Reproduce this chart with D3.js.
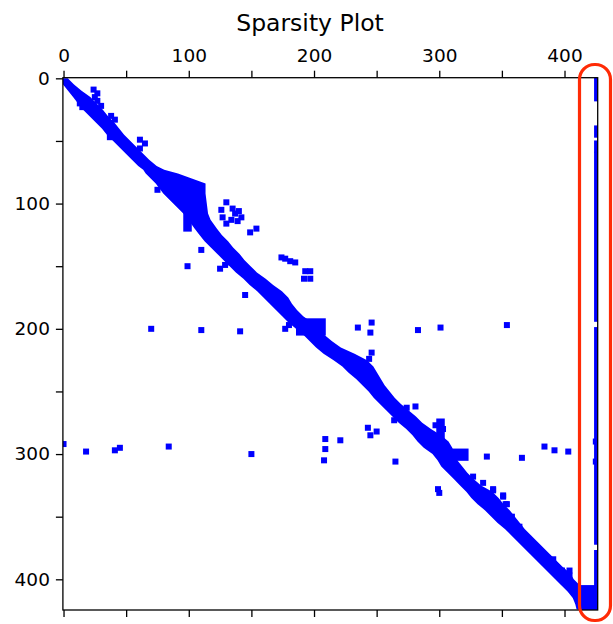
<!DOCTYPE html>
<html>
<head>
<meta charset="utf-8">
<script src="https://cdn.jsdelivr.net/npm/d3@7"></script>
<style>
  html, body { margin: 0; padding: 0; background: #ffffff; }
  svg { display: block; }
  text { font-family: "DejaVu Sans", sans-serif; fill: #000; }
</style>
</head>
<body>
<div id="chart"></div>
<script>
// Matrix shape
const nRows = 425;
const nCols = 427;

// Main diagonal band profile: [row, firstCol, lastCol] of the nonzeros at that row
const bandRows = [
  [0, 0, 1], [5, 2, 6], [10, 6, 12], [15, 10, 19], [20, 14, 24], [25, 18, 29],
  [30, 23, 33], [35, 28, 38], [40, 33, 42], [45, 37, 46], [50, 42, 51], [55, 47, 56],
  [60, 52, 61], [65, 57, 66], [70, 62, 72], [73, 66, 78], [76, 68, 89], [80, 72, 100],
  [84, 76, 111], [92, 82, 111], [100, 90, 112], [108, 98, 113], [113, 102, 115],
  [120, 107, 120], [125, 111, 124], [130, 115, 129], [135, 120, 133], [140, 125, 138], [145, 130, 142],
  [150, 135, 147], [155, 140, 152], [160, 146, 159], [165, 151, 165], [170, 157, 172], [175, 162, 177],
  [180, 167, 180], [185, 172, 184], [190, 177, 189], [195, 182, 196], [200, 188, 201], [205, 194, 206],
  [210, 199, 212], [215, 204, 219], [220, 210, 230], [225, 218, 240], [230, 225, 245], [235, 230, 248],
  [240, 236, 251], [245, 241, 254], [250, 246, 258], [255, 250, 262], [260, 255, 267], [265, 260, 273],
  [270, 265, 279], [275, 270, 284], [280, 276, 291], [285, 281, 299], [290, 285, 305], [295, 290, 308],
  [300, 297, 310], [305, 301, 312], [310, 304, 316], [315, 309, 320], [320, 314, 325], [325, 319, 331],
  [330, 324, 340], [335, 328, 345], [340, 333, 349], [345, 339, 354], [350, 344, 358], [355, 349, 362],
  [360, 355, 366], [365, 360, 371], [370, 365, 376], [375, 370, 381], [380, 375, 386], [385, 380, 391],
  [390, 385, 396], [395, 390, 402], [400, 395, 405], [405, 400, 410], [410, 405, 414], [415, 409, 422],
  [420, 411, 426], [424, 412, 426]
];

// Dense off-band blocks: [firstRow, lastRow, firstCol, lastCol]
const blocks = [
  [105, 120, 98, 100], [194, 203, 188, 207], [298, 303, 310, 321],
  [274, 291, 300, 302], [407, 424, 413, 426]
];

// Scattered single nonzeros: [row, col]
const points = [
  [9, 24], [12, 27], [15, 25], [20, 13], [23, 15], [18, 27], [22, 30],
  [30, 38], [33, 41], [45, 38], [47, 37], [49, 61], [52, 65], [56, 61],
  [89, 75], [99, 130], [105, 126], [111, 127], [104, 135], [106, 140], [108, 137],
  [111, 142], [114, 139], [113, 134], [116, 130],
  [120, 154], [123, 149], [137, 110], [150, 99],
  [152, 125], [149, 129], [147, 133], [146, 137], [173, 145],
  [143, 174], [144, 177], [146, 181], [147, 185],
  [154, 193], [154, 197], [160, 192], [160, 197],
  [200, 70], [201, 110], [202, 141], [197, 180], [200, 177],
  [199, 235], [195, 246], [203, 245], [201, 283], [199, 301], [197, 354],
  [219, 246], [224, 244], [263, 274], [262, 281], [273, 264],
  [279, 243], [285, 245], [282, 250], [277, 297], [280, 303],
  [292, 0], [298, 18], [297, 41], [295, 45], [294, 84], [300, 150],
  [288, 209], [296, 209], [289, 221], [305, 208], [306, 265],
  [302, 338], [303, 366], [294, 384], [297, 392], [298, 403],
  [318, 327], [323, 335], [328, 343], [334, 351], [340, 354], [350, 358], [358, 364],
  [328, 299], [331, 300], [329, 343], [333, 351], [340, 353],
  [384, 391], [393, 398], [393, 404], [397, 404], [290, 425], [306, 425]
];

// Runs of nonzeros in the last column: [firstRow, lastRow]
const lastColRuns = [
  [0, 16], [40, 45], [52, 57], [61, 192], [201, 370], [379, 424]
];

// Tick values
const tickValues = [0, 50, 100, 150, 200, 250, 300, 350, 400];
const tickLabels = [0, 100, 200, 300, 400];

const W = 613, H = 624;
const plot = { left: 62.9, right: 597.7, top: 77.7, bottom: 610.0 };
const markerSize = 6;
const markerColor = "#0000ff";

const x = d3.scaleLinear().domain([-0.5, nCols - 0.5]).range([plot.left, plot.right]);
const y = d3.scaleLinear().domain([-0.5, nRows - 0.5]).range([plot.top, plot.bottom]);

const svg = d3.select("#chart").append("svg")
  .attr("width", W).attr("height", H);

svg.append("clipPath").attr("id", "plot-clip")
  .append("rect")
  .attr("x", plot.left).attr("y", plot.top)
  .attr("width", plot.right - plot.left).attr("height", plot.bottom - plot.top);

const marks = svg.append("g").attr("clip-path", "url(#plot-clip)");
const h = markerSize / 2;

// the band: outer edge of the markers at each profile row
const bandArea = d3.area()
  .y(d => y(d[0]))
  .x0(d => x(d[1]) - h)
  .x1(d => x(d[2]) + h);

marks.append("path")
  .datum(bandRows)
  .attr("d", bandArea)
  .attr("fill", markerColor);

// a rectangle covering all markers of rows r0..r1 and cols c0..c1
function cellRect(r0, r1, c0, c1) {
  return {
    x: x(c0) - h,
    y: y(r0) - h,
    w: x(c1) - x(c0) + markerSize,
    h: y(r1) - y(r0) + markerSize
  };
}

const blockRects = blocks.map(d => cellRect(d[0], d[1], d[2], d[3]));
const pointRects = points.map(d => cellRect(d[0], d[0], d[1], d[1]));
const colRects = lastColRuns.map(d => cellRect(d[0], d[1], nCols - 1, nCols - 1));

marks.selectAll("rect.nz")
  .data(blockRects.concat(pointRects, colRects))
  .join("rect")
  .attr("class", "nz")
  .attr("x", d => d.x).attr("y", d => d.y)
  .attr("width", d => d.w).attr("height", d => d.h)
  .attr("fill", markerColor);

// Axes
const fmt = v => (tickLabels.includes(v) ? String(v) : "");
const fontSize = 18.5;

const topAxis = d3.axisTop(x).tickValues(tickValues).tickFormat(fmt).tickSize(7).tickPadding(9);
const bottomAxis = d3.axisBottom(x).tickValues(tickValues).tickFormat("").tickSize(7);
const leftAxis = d3.axisLeft(y).tickValues(tickValues).tickFormat(fmt).tickSize(7).tickPadding(6);

function styleAxis(g) {
  g.select(".domain").remove();
  g.selectAll(".tick line").attr("stroke", "#000").attr("stroke-width", 1.3);
  g.selectAll(".tick text")
    .attr("font-size", fontSize)
    .attr("font-family", "DejaVu Sans, sans-serif")
    .attr("fill", "#000");
}

svg.append("g").attr("transform", `translate(0,${plot.top})`).call(topAxis).call(styleAxis);
svg.append("g").attr("transform", `translate(0,${plot.bottom})`).call(bottomAxis).call(styleAxis);
svg.append("g").attr("transform", `translate(${plot.left},0)`).call(leftAxis).call(styleAxis);

// Frame
svg.append("rect")
  .attr("x", plot.left).attr("y", plot.top)
  .attr("width", plot.right - plot.left).attr("height", plot.bottom - plot.top)
  .attr("fill", "none").attr("stroke", "#000").attr("stroke-width", 1.3);

// Title
svg.append("text")
  .attr("x", 310).attr("y", 31)
  .attr("text-anchor", "middle")
  .attr("font-size", 23.5)
  .text("Sparsity Plot");

// Highlight around the last column
svg.append("rect")
  .attr("x", 579.5).attr("y", 64.5)
  .attr("width", 31).attr("height", 556)
  .attr("rx", 15).attr("ry", 15)
  .attr("fill", "none")
  .attr("stroke", "#ff2b06")
  .attr("stroke-width", 3.2);
</script>
</body>
</html>
